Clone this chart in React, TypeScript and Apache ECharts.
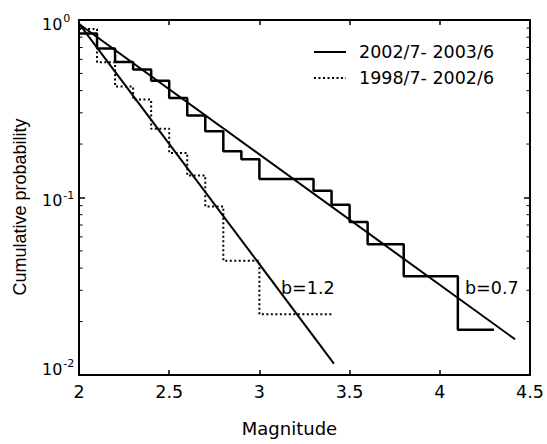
import React, { useEffect, useRef } from "react";
import * as echarts from "echarts";

// ---- data ----
const seriesNames = ["2002/7- 2003/6", "1998/7- 2002/6"];
// step edges (magnitude where each step starts, plus final end) and step values
const solidEdges = [2.0, 2.1, 2.2, 2.3, 2.4, 2.5, 2.6, 2.7, 2.8, 2.9, 3.0, 3.3, 3.4, 3.5, 3.6, 3.8, 4.1, 4.3];
const solidProb = [0.84, 0.69, 0.58, 0.527, 0.455, 0.364, 0.29, 0.236, 0.182, 0.164, 0.127, 0.109, 0.091, 0.0727, 0.0545, 0.036, 0.018];
const dottedEdges = [2.0, 2.1, 2.2, 2.3, 2.4, 2.5, 2.6, 2.7, 2.8, 3.0, 3.4];
const dottedProb = [0.889, 0.578, 0.422, 0.356, 0.244, 0.178, 0.133, 0.089, 0.044, 0.022];
// fitted lines (start / end points)
const fitB07 = [[2.0, 0.95], [4.417, 0.0159]];
const fitB12 = [[2.0, 0.955], [3.413, 0.0116]];
const fitLabels = ["b=1.2", "b=0.7"];
// axes
const xMin = 2, xMax = 4.5, xInterval = 0.5;
const yMin = 0.01, yMax = 1;
const minorTickValues = [0.02, 0.03, 0.04, 0.05, 0.06, 0.07, 0.08, 0.09, 0.2, 0.3, 0.4, 0.5, 0.6, 0.7, 0.8, 0.9];
const xAxisTitle = "Magnitude";
const yAxisTitle = "Cumulative probability";

const FONT = "DejaVu Sans";
const FS = 17.5;

function stepData(edges: number[], probs: number[]) {
  return edges.map((m, i) => [m, probs[Math.min(i, probs.length - 1)]]);
}

export default function App() {
  const ref = useRef<HTMLDivElement>(null);
  useEffect(() => {
    if (!ref.current) return;
    const chart = echarts.init(ref.current, undefined, { renderer: "svg" });
    const axisLine = { show: true, lineStyle: { color: "#000", width: 2 } };
    const option: any = {
      animation: false,
      backgroundColor: "#fff",
      grid: { left: 79, top: 20, width: 451, height: 355, containLabel: false },
      legend: {
        data: seriesNames,
        orient: "vertical",
        left: 308,
        top: 38,
        itemWidth: 32,
        itemHeight: 14,
        itemGap: 8,
        itemStyle: { opacity: 0, borderWidth: 0 },
        textStyle: { fontFamily: FONT, fontSize: FS, color: "#000", padding: [0, 0, 0, 8] },
      },
      xAxis: [
        {
          type: "value",
          min: xMin,
          max: xMax,
          interval: xInterval,
          position: "bottom",
          axisLine,
          axisTick: { show: true, inside: true, length: 5, lineStyle: { color: "#000", width: 1.5 } },
          axisLabel: {
            show: true,
            margin: 8,
            color: "#000",
            fontFamily: FONT,
            fontSize: FS,
            formatter: (v: number) => String(v),
          },
          splitLine: { show: false },
          name: xAxisTitle,
          nameLocation: "middle",
          nameGap: 44,
          nameTextStyle: { fontFamily: FONT, fontSize: 18, color: "#000", padding: [0, 30, 0, 0] },
        },
        {
          type: "value",
          min: xMin,
          max: xMax,
          interval: xInterval,
          position: "top",
          axisLine,
          axisTick: { show: true, inside: true, length: 5, lineStyle: { color: "#000", width: 1.5 } },
          axisLabel: { show: false },
          splitLine: { show: false },
        },
      ],
      yAxis: [
        {
          type: "log",
          logBase: 10,
          min: yMin,
          max: yMax,
          position: "left",
          axisLine,
          axisTick: { show: true, inside: true, length: 6, lineStyle: { color: "#000", width: 1.5 } },
          splitLine: { show: false },
          axisLabel: {
            show: true,
            align: "left",
            margin: 37,
            color: "#000",
            formatter: (v: number) => {
              const e = Math.round(Math.log10(v));
              const k = Math.abs(e);
              return `{b${k}|10}{s${k}|${e}}`;
            },
            rich: {
              b0: { fontFamily: FONT, fontSize: 16, color: "#000", padding: [8, 0, 0, 0] },
              s0: { fontFamily: FONT, fontSize: 11, color: "#000", padding: [0, 0, 3, 1] },
              b1: { fontFamily: FONT, fontSize: 16, color: "#000", padding: [6, 0, 0, 0] },
              s1: { fontFamily: FONT, fontSize: 11, color: "#000", padding: [0, 0, 5, 1] },
              b2: { fontFamily: FONT, fontSize: 16, color: "#000", padding: [0, 0, 12, 0] },
              s2: { fontFamily: FONT, fontSize: 11, color: "#000", padding: [0, 0, 23, 1] },
            },
          },
          name: yAxisTitle,
          nameLocation: "middle",
          nameGap: 50,
          nameRotate: 90,
          nameTextStyle: { fontFamily: "Liberation Sans", fontSize: 18, color: "#000", padding: [0, 19, 0, 0] },
        },
        {
          type: "log",
          logBase: 10,
          min: yMin,
          max: yMax,
          position: "right",
          axisLine,
          axisTick: { show: true, inside: true, length: 6, lineStyle: { color: "#000", width: 1.5 } },
          axisLabel: { show: false },
          splitLine: { show: false },
        },
      ],
      series: [
        {
          name: seriesNames[0],
          type: "line",
          step: "end",
          symbol: "none",
          data: stepData(solidEdges, solidProb),
          lineStyle: { color: "#000", width: 2.5, type: "solid" },
          itemStyle: { color: "#000" },
          z: 3,
        },
        {
          name: seriesNames[1],
          type: "line",
          step: "end",
          symbol: "none",
          data: stepData(dottedEdges, dottedProb),
          lineStyle: { color: "#000", width: 2, type: [2, 2.5] },
          itemStyle: { color: "#000" },
          z: 3,
        },
        {
          name: "fit07",
          type: "line",
          symbol: "none",
          data: fitB07,
          lineStyle: { color: "#000", width: 2 },
          z: 4,
        },
        {
          name: "fit12",
          type: "line",
          symbol: "none",
          data: fitB12,
          lineStyle: { color: "#000", width: 2 },
          z: 4,
        },
        {
          name: "minorTicks",
          type: "custom",
          silent: true,
          clip: false,
          data: minorTickValues.map((v) => [xMin, v]),
          encode: { x: 0, y: 1 },
          renderItem: (params: any, api: any) => {
            const v = api.value(1);
            const pL = api.coord([xMin, v]);
            const pR = api.coord([xMax, v]);
            const st = { stroke: "#000", lineWidth: 1 };
            return {
              type: "group",
              children: [
                { type: "line", shape: { x1: pL[0], y1: pL[1], x2: pL[0] + 3.5, y2: pL[1] }, style: st },
                { type: "line", shape: { x1: pR[0] - 3.5, y1: pR[1], x2: pR[0], y2: pR[1] }, style: st },
              ],
            };
          },
          z: 5,
        },
      ],
      graphic: [
        {
          type: "text",
          x: 281,
          y: 288,
          style: { text: fitLabels[0], fontFamily: FONT, fontSize: FS, fill: "#000", align: "left", verticalAlign: "middle" },
        },
        {
          type: "text",
          x: 465,
          y: 288,
          style: { text: fitLabels[1], fontFamily: FONT, fontSize: FS, fill: "#000", align: "left", verticalAlign: "middle" },
        },
      ],
    };
    chart.setOption(option);
    return () => chart.dispose();
  }, []);
  return (
    <div
      ref={ref}
      style={{ position: "fixed", left: 0, top: 0, width: 547, height: 444, background: "#fff" }}
    />
  );
}
